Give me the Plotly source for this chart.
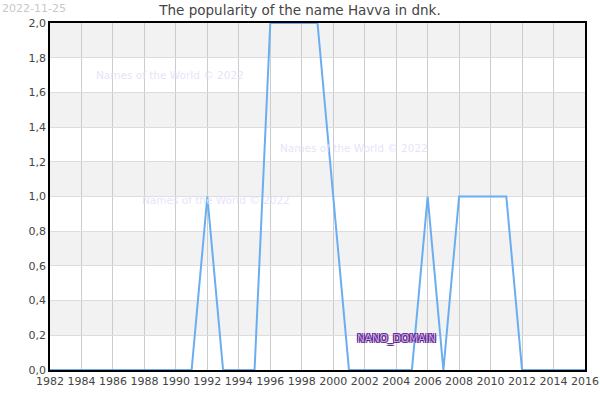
import plotly.graph_objects as go

# Babies named Havva per year (dnk)
years = list(range(1982, 2017))
counts = [0, 0, 0, 0, 0, 0, 0, 0, 0, 0,   # 1982-1991
          1, 0, 0, 0, 2, 2, 2, 2, 1, 0,   # 1992-2001
          0, 0, 0, 0, 1, 0, 1, 1, 1, 1,   # 2002-2011
          0, 0, 0, 0, 0]                  # 2012-2016

x_ticks = list(range(1982, 2017, 2))
x_labels = [str(y) for y in x_ticks]
y_ticks = [0.0, 0.2, 0.4, 0.6, 0.8, 1.0, 1.2, 1.4, 1.6, 1.8, 2.0]
y_labels = ["0,0", "0,2", "0,4", "0,6", "0,8", "1,0", "1,2", "1,4", "1,6", "1,8", "2,0"]

# grey stripes between every other pair of y gridlines
bands = [(0.2, 0.4), (0.6, 0.8), (1.0, 1.2), (1.4, 1.6), (1.8, 2.0)]

fig = go.Figure()
fig.add_trace(go.Scatter(
    x=years, y=counts, mode="lines",
    line=dict(color="#6aaef0", width=2),
    hoverinfo="x+y",
))

shapes = [
    dict(type="rect", xref="paper", yref="y", x0=0, x1=1, y0=a, y1=b,
         fillcolor="#f2f2f2", line_width=0, layer="below")
    for a, b in bands
]

watermark = dict(size=10.5, color="rgba(225,225,250,0.9)")
annotations = [
    dict(text="2022-11-25", x=-0.094, y=1.066, xref="paper", yref="paper",
         xanchor="left", yanchor="top", showarrow=False,
         font=dict(size=11, color="#c8c8c8")),
    dict(text="Names of the World © 2022", x=1989.6, y=1.70, showarrow=False,
         font=watermark),
    dict(text="Names of the World © 2022", x=2001.3, y=1.28, showarrow=False,
         font=watermark),
    dict(text="Names of the World © 2022", x=1992.55, y=0.98, showarrow=False,
         font=watermark),
    dict(text="NANO_DOMAIN", x=2004.05, y=0.184, showarrow=False,
         font=dict(size=10.4, color="#c9a6ee",
                   shadow="1px 1px 0 #5e2488, -1px -1px 0 #5e2488, "
                          "1px -1px 0 #5e2488, -1px 1px 0 #5e2488")),
]

fig.update_layout(
    width=600, height=400, autosize=False,
    margin=dict(l=50, r=15, t=23, b=30),
    paper_bgcolor="white", plot_bgcolor="white",
    font=dict(family="DejaVu Sans", size=11, color="#444444"),
    title=dict(text="The popularity of the name Havva in dnk.",
               x=0.5, xanchor="center", y=0.975, yanchor="middle",
               font=dict(size=13.5, color="#444444")),
    showlegend=False,
    shapes=shapes,
    annotations=annotations,
)
fig.update_xaxes(
    range=[1982, 2016], tickvals=x_ticks, ticktext=x_labels,
    showgrid=True, gridcolor="#cccccc", gridwidth=1,
    showline=True, linecolor="black", linewidth=1.5, mirror=True,
    ticks="", zeroline=False, automargin=False, layer="below traces",
)
fig.update_yaxes(
    range=[0, 2], tickvals=y_ticks, ticktext=y_labels,
    showgrid=True, gridcolor="#dddddd", gridwidth=1,
    showline=True, linecolor="black", linewidth=1.5, mirror=True,
    ticks="", zeroline=False, automargin=False, layer="below traces",
)

# no page margin or scrollbars, so the 600x400 figure sits at 0,0
page_fix = ("document.body.style.margin = '0';"
            "document.body.style.overflow = 'hidden';"
            "document.documentElement.style.overflow = 'hidden';")
fig.write_html("out.html", post_script=page_fix,
               config={"displayModeBar": False, "responsive": False})
